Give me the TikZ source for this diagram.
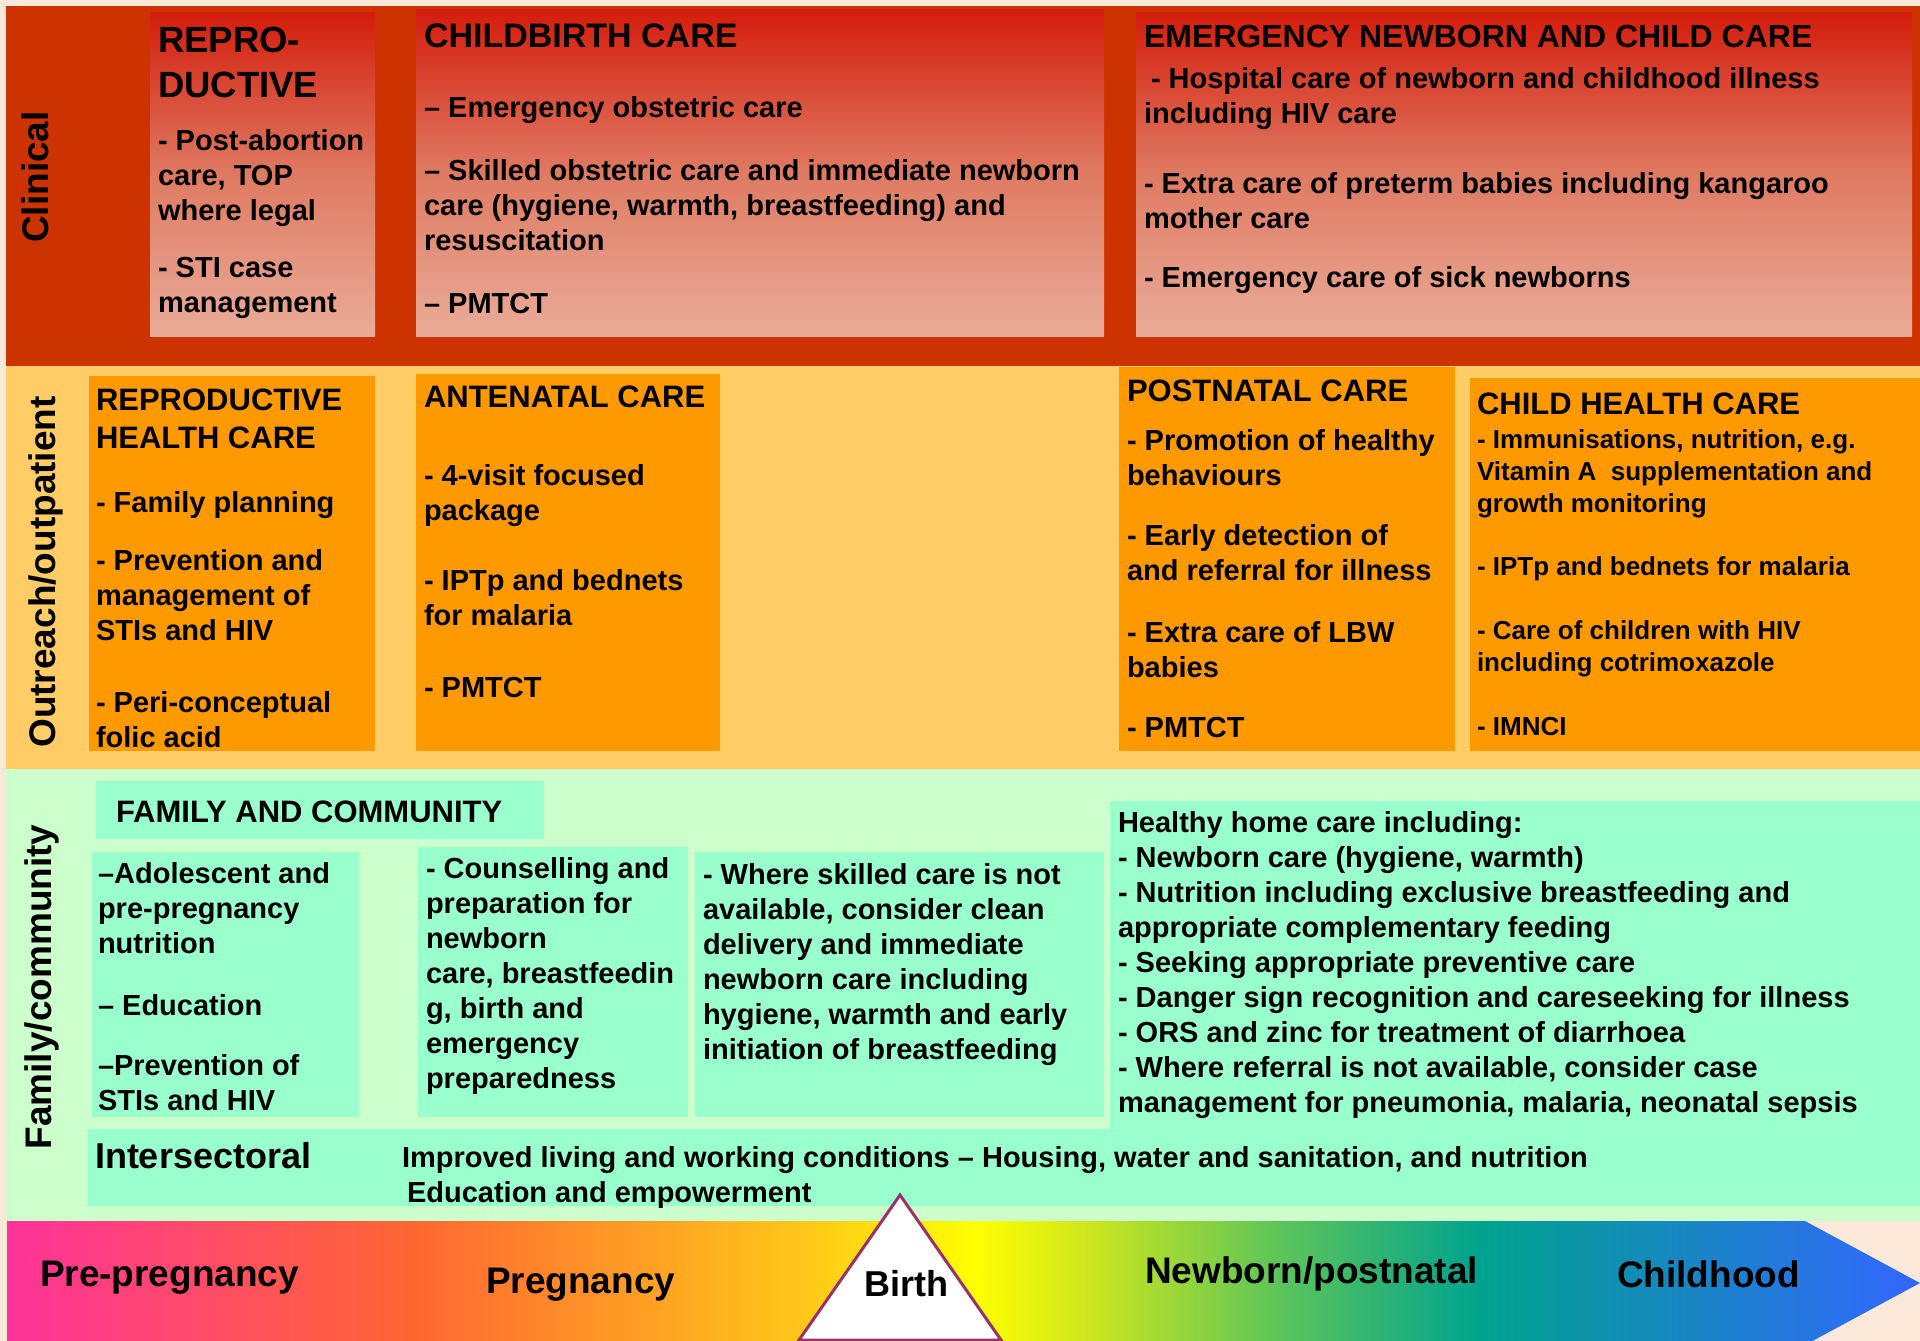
\documentclass[tikz,border=0pt]{standalone}
\usepackage{fontspec}
\setmainfont{Liberation Sans}

% colours
\definecolor{pagebg}{HTML}{FCE9DA}
\definecolor{clinband}{HTML}{CC3300}
\definecolor{clintop}{HTML}{D41C0C}
\definecolor{clinmid}{HTML}{DF7A62}
\definecolor{clinbot}{HTML}{E9AC98}
\definecolor{outband}{HTML}{FFCC66}
\definecolor{outbox}{HTML}{FF9900}
\definecolor{famband}{HTML}{CCFFCC}
\definecolor{fambox}{HTML}{99FFCC}
\definecolor{birthedge}{HTML}{993366}
\definecolor{rbA}{HTML}{FF3399}
\definecolor{rbB}{HTML}{FF6633}
\definecolor{rbC}{HTML}{FFC61A}
\definecolor{rbD}{HTML}{FFFF00}
\definecolor{rbE}{HTML}{CCE61E}
\definecolor{rbF}{HTML}{5CC45A}
\definecolor{rbG}{HTML}{00A38F}
\definecolor{rbH}{HTML}{3366FF}

% type sizes (1pt = 1 unit of the drawing grid)
\newcommand{\fBody}{\fontsize{29}{35}\selectfont\bfseries}
\newcommand{\fSmall}{\fontsize{26}{32}\selectfont\bfseries}
\newcommand{\fHeadA}{\fontsize{36.5}{45}\selectfont\bfseries}
\newcommand{\fHeadB}{\fontsize{34}{40}\selectfont\bfseries}
\newcommand{\fHeadC}{\fontsize{32}{38}\selectfont\bfseries}
\newcommand{\fHeadD}{\fontsize{31}{38}\selectfont\bfseries}
\newcommand{\fStage}{\fontsize{37}{42}\selectfont\bfseries}
\newcommand{\mlines}[1]{\parbox[t]{1200pt}{\raggedright #1}}

\begin{document}
\begin{tikzpicture}[x=1pt,y=-1pt,
  txt/.style={anchor=base west, inner sep=0pt, outer sep=0pt, text=black, font=\fBody},
  side/.style={rotate=90, anchor=base, inner sep=0pt, outer sep=0pt, font=\fStage},
  stage/.style={anchor=base west, inner sep=0pt, outer sep=0pt, font=\fStage},
  clinbox/.style={top color=clintop, bottom color=clinbot, middle color=clinmid},
  obox/.style={fill=outbox},
  fbox/.style={fill=fambox}]

\useasboundingbox (0,0) rectangle (1920,1341);
\fill[pagebg] (0,0) rectangle (1920,1341);

% level bands
\fill[clinband] (6,6) rectangle (1920,366);
\fill[outband] (6,366) rectangle (1920,769);
\fill[famband] (6,769) rectangle (1920,1221);

% clinical boxes
\shade[clinbox] (150,12) rectangle (375,336);
\shade[clinbox] (416,9) rectangle (1104,336);
\shade[clinbox] (1136,12) rectangle (1912,336);

% outreach boxes
\fill[obox] (89,376) rectangle (375,751);
\fill[obox] (416,374) rectangle (720,751);
\fill[obox] (1119,367) rectangle (1455,751);
\fill[obox] (1470,378) rectangle (1920,751);

% family / community boxes
\fill[fbox] (96,781) rectangle (544,839);
\fill[fbox] (92,852) rectangle (359,1117);
\fill[fbox] (418,847) rectangle (688,1117);
\fill[fbox] (695,852) rectangle (1104,1117);
\fill[fbox] (1110,801) rectangle (1920,1130);
\fill[fbox] (88,1129) rectangle (1920,1206);

% continuum arrow with rainbow fill
\begin{scope}
  \clip (7,1221) -- (1805,1221) -- (1920,1283) -- (1805,1345) -- (7,1345) -- cycle;
  \shade[left color=rbA, right color=rbB] (7,1221) rectangle (411,1345);
  \shade[left color=rbB, right color=rbC] (410,1221) rectangle (801,1345);
  \shade[left color=rbC, right color=rbD] (800,1221) rectangle (976,1345);
  \shade[left color=rbD, right color=rbE] (975,1221) rectangle (1091,1345);
  \shade[left color=rbE, right color=rbF] (1090,1221) rectangle (1281,1345);
  \shade[left color=rbF, right color=rbG] (1280,1221) rectangle (1481,1345);
  \shade[left color=rbG, right color=rbH] (1480,1221) rectangle (1920,1345);
\end{scope}

% birth marker
\draw[line width=3pt, draw=birthedge, fill=white, line join=miter]
  (900,1195) -- (1001,1340) -- (799,1340) -- cycle;

% level labels
\node[side] (lclin) at (48,177) {Clinical};
\node[side] (lout) at (55,572) {Outreach/outpatient};
\node[side] (lfam) at (51.5,987) {Family/community};

% clinical texts
\node[txt, font=\fHeadA] (c1h) at (158,52) {\mlines{REPRO-\\DUCTIVE}};
\node[txt] (c1a) at (158,150) {\mlines{- Post-abortion\\care, TOP\\where legal}};
\node[txt] (c1b) at (158,277) {\mlines{- STI case\\management}};

\node[txt, font=\fHeadB] (c2h) at (424,47) {CHILDBIRTH CARE};
\node[txt] (c2a) at (424,117) {– Emergency obstetric care};
\node[txt] (c2b) at (424,180) {\mlines{– Skilled obstetric care and immediate newborn\\care (hygiene, warmth, breastfeeding) and\\resuscitation}};
\node[txt] (c2c) at (424,313) {– PMTCT};

\node[txt, font=\fHeadC] (c3h) at (1144,47) {EMERGENCY NEWBORN AND CHILD CARE};
\node[txt] (c3a) at (1144,88) {\mlines{\hspace*{7pt}- Hospital care of newborn and childhood illness\\including HIV care}};
\node[txt] (c3b) at (1144,193) {\mlines{- Extra care of preterm babies including kangaroo\\mother care}};
\node[txt] (c3c) at (1144,287) {- Emergency care of sick newborns};

% outreach texts
\node[txt, font=\fHeadD] (o1h) at (96,410) {\mlines{REPRODUCTIVE\\HEALTH CARE}};
\node[txt] (o1a) at (96,512) {- Family planning};
\node[txt] (o1b) at (96,570) {\mlines{- Prevention and\\management of\\STIs and HIV}};
\node[txt] (o1c) at (96,712) {\mlines{- Peri-conceptual\\folic acid}};

\node[txt, font=\fHeadD] (o2h) at (424,407) {ANTENATAL CARE};
\node[txt] (o2a) at (424,485) {\mlines{- 4-visit focused\\package}};
\node[txt] (o2b) at (424,590) {\mlines{- IPTp and bednets\\for malaria}};
\node[txt] (o2c) at (424,697) {- PMTCT};

\node[txt, font=\fHeadD] (o3h) at (1127,401) {POSTNATAL CARE};
\node[txt] (o3a) at (1127,450) {\mlines{- Promotion of healthy\\behaviours}};
\node[txt] (o3b) at (1127,545) {\mlines{- Early detection of\\and referral for illness}};
\node[txt] (o3c) at (1127,642) {\mlines{- Extra care of LBW\\babies}};
\node[txt] (o3d) at (1127,737) {- PMTCT};

\node[txt, font=\fHeadD] (o4h) at (1477,414) {CHILD HEALTH CARE};
\node[txt, font=\fSmall] (o4a) at (1477,448) {\mlines{- Immunisations, nutrition, e.g.\\Vitamin A\ \ supplementation and\\growth monitoring}};
\node[txt, font=\fSmall] (o4b) at (1477,575) {- IPTp and bednets for malaria};
\node[txt, font=\fSmall] (o4c) at (1477,639) {\mlines{- Care of children with HIV\\including cotrimoxazole}};
\node[txt, font=\fSmall] (o4d) at (1477,735) {- IMNCI};

% family / community texts
\node[txt, font=\fHeadD] (f0) at (116,822) {FAMILY AND COMMUNITY};
\node[txt] (f1a) at (98,883) {\mlines{–Adolescent and\\pre-pregnancy\\nutrition}};
\node[txt] (f1b) at (98,1015) {– Education};
\node[txt] (f1c) at (98,1075) {\mlines{–Prevention of\\STIs and HIV}};
\node[txt] (f2) at (426,878) {\mlines{- Counselling and\\preparation for\\newborn\\care, breastfeedin\\g, birth and\\emergency\\preparedness}};
\node[txt] (f3) at (703,884) {\mlines{- Where skilled care is not\\available, consider clean\\delivery and immediate\\newborn care including\\hygiene, warmth and early\\initiation of breastfeeding}};
\node[txt] (f4) at (1118,832) {\mlines{Healthy home care including:\\- Newborn care (hygiene, warmth)\\- Nutrition including exclusive breastfeeding and\\appropriate complementary feeding\\- Seeking appropriate preventive care\\- Danger sign recognition and careseeking for illness\\- ORS and zinc for treatment of diarrhoea\\- Where referral is not available, consider case\\management for pneumonia, malaria, neonatal sepsis}};

% intersectoral strip
\node[txt, font=\fontsize{36}{40}\selectfont\bfseries] (ih) at (95,1168) {Intersectoral};
\node[txt] (ia) at (402,1167) {Improved living and working conditions – Housing, water and sanitation, and nutrition};
\node[txt] (ib) at (407,1202) {Education and empowerment};

% stages along the continuum
\node[stage] (s1) at (40,1286) {Pre-pregnancy};
\node[stage] (s2) at (486,1293) {Pregnancy};
\node[stage, font=\fontsize{36}{40}\selectfont\bfseries] (s3) at (864,1296) {Birth};
\node[stage] (s4) at (1145,1283) {Newborn/postnatal};
\node[stage] (s5) at (1617,1287) {Childhood};

\end{tikzpicture}
\end{document}
